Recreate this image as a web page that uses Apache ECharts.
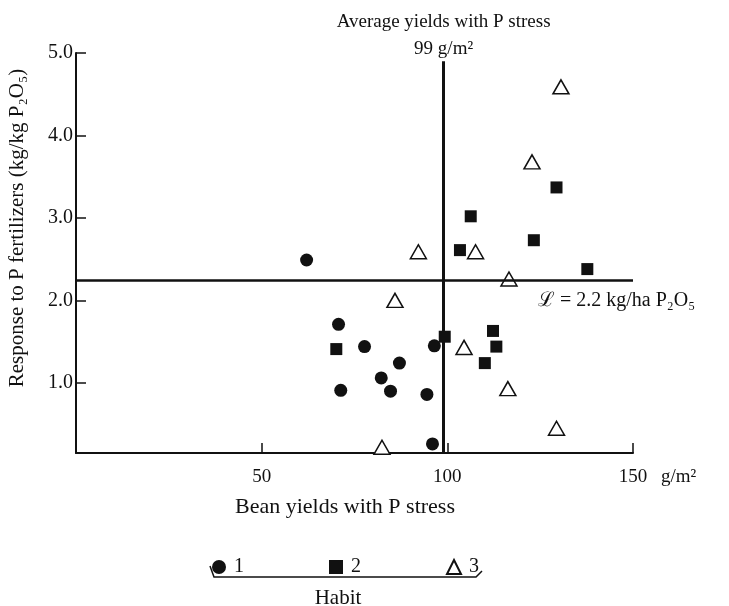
<!DOCTYPE html>
<html><head><meta charset="utf-8">
<script src="https://cdn.jsdelivr.net/npm/echarts@6/dist/echarts.min.js"></script>
<style>html,body{margin:0;padding:0;background:#fff}#c{width:729px;height:606px}</style>
</head><body><div id="c"></div>
<script>
// Habit 1 (filled circles): [bean yield with P stress g/m2, response kg/kg P2O5]
const habit1 = [[62.1,2.49],[70.7,1.71],[77.7,1.44],[71.3,0.91],[87.1,1.24],[82.2,1.06],[84.7,0.90],[94.5,0.86],[96.5,1.45],[96.0,0.26]];
// Habit 2 (filled squares)
const habit2 = [[70.1,1.41],[99.3,1.56],[106.3,3.02],[103.4,2.61],[112.3,1.63],[113.2,1.44],[110.1,1.24],[123.3,2.73],[129.4,3.37],[137.7,2.38]];
// Habit 3 (open triangles)
const habit3 = [[130.6,4.59],[122.8,3.68],[92.2,2.59],[107.6,2.59],[116.6,2.26],[85.9,2.00],[104.5,1.43],[116.3,0.93],[129.4,0.45],[82.4,0.22]];
const xTickValues = [50, 100, 150];
const yTickValues = [1, 2, 3, 4, 5];
const averageYield = 99;
const criticalResponse = 2.25;
const habitNames = ['1', '2', '3'];

const FONT = 'Liberation Serif';
const chart = echarts.init(document.getElementById('c'));
chart.setOption({
  animation: false,
  backgroundColor: '#fff',
  textStyle: {fontFamily: FONT, color: '#111'},
  grid: {left: 76, right: 96, top: 53, bottom: 153},
  xAxis: {
    type: 'value', min: 0, max: 150, interval: 50,
    splitLine: {show: false},
    axisLine: {onZero: false, lineStyle: {color: '#111', width: 2}},
    axisTick: {inside: true, length: 10, customValues: xTickValues, lineStyle: {color: '#111', width: 1.5}},
    axisLabel: {customValues: xTickValues, margin: 15, fontSize: 19, fontFamily: FONT, color: '#111'},
    name: 'g/m²', nameLocation: 'end', nameGap: 28,
    nameTextStyle: {fontSize: 19, fontFamily: FONT, color: '#111', verticalAlign: 'top', padding: [15, 0, 0, 0]}
  },
  yAxis: {
    type: 'value', min: 0.15, max: 5.0,
    splitLine: {show: false},
    axisLine: {onZero: false, lineStyle: {color: '#111', width: 2}},
    axisTick: {inside: true, length: 10, customValues: yTickValues, lineStyle: {color: '#111', width: 1.5}},
    axisLabel: {customValues: yTickValues, margin: 3, fontSize: 20, fontFamily: FONT, color: '#111',
      formatter: v => v.toFixed(1)}
  },
  legend: {
    data: habitNames, left: 207, top: 552, itemGap: 85, itemWidth: 14, itemHeight: 14,
    textStyle: {fontSize: 20, fontFamily: FONT, color: '#111', padding: [0, 0, 0, 3]}
  },
  graphic: [
    {type: 'text', x: 17, y: 228, rotation: Math.PI / 2,
      style: {text: 'Response to P fertilizers (kg/kg P₂O₅)', font: '21px "Liberation Serif"', fill: '#111', align: 'center', verticalAlign: 'middle'}},
    {type: 'text', x: 345, y: 507,
      style: {text: 'Bean yields with P stress', font: '22px "Liberation Serif"', fill: '#111', align: 'center', verticalAlign: 'middle'}},
    {type: 'polyline', shape: {points: [[210, 566], [214, 577], [476, 577], [482, 571]]},
      style: {stroke: '#111', lineWidth: 1.5, fill: null}},
    {type: 'text', x: 338, y: 598,
      style: {text: 'Habit', font: '21px "Liberation Serif"', fill: '#111', align: 'center', verticalAlign: 'middle'}}
  ],
  series: [
    {name: '1', type: 'scatter', data: habit1, symbol: 'circle', symbolSize: 13,
      itemStyle: {color: '#111', opacity: 1},
      markLine: {
        silent: true, symbol: 'none', animation: false,
        data: [
          [{coord: [averageYield, 0.15], lineStyle: {width: 3, color: '#111', type: 'solid'},
            label: {show: true, position: 'end', distance: -1, formatter: 'Average yields with P stress\n99 g/m²',
              fontSize: 19, lineHeight: 27, fontFamily: FONT, color: '#111'}},
           {coord: [averageYield, 4.9]}],
          [{coord: [0, criticalResponse], lineStyle: {width: 2.5, color: '#111', type: 'solid'},
            label: {show: true, position: 'end', formatter: 'ℒ = 2.2 kg/ha P₂O₅', offset: [-100, 21],
              fontSize: 20, fontFamily: FONT, color: '#111'}},
           {coord: [150, criticalResponse]}]
        ]
      }},
    {name: '2', type: 'scatter', data: habit2, symbol: 'rect', symbolSize: 12,
      itemStyle: {color: '#111', opacity: 1}},
    {name: '3', type: 'scatter', data: habit3, symbol: 'triangle', symbolSize: [16, 14],
      itemStyle: {color: '#fff', borderColor: '#111', borderWidth: 1.5, opacity: 1}}
  ]
});
</script></body></html>
